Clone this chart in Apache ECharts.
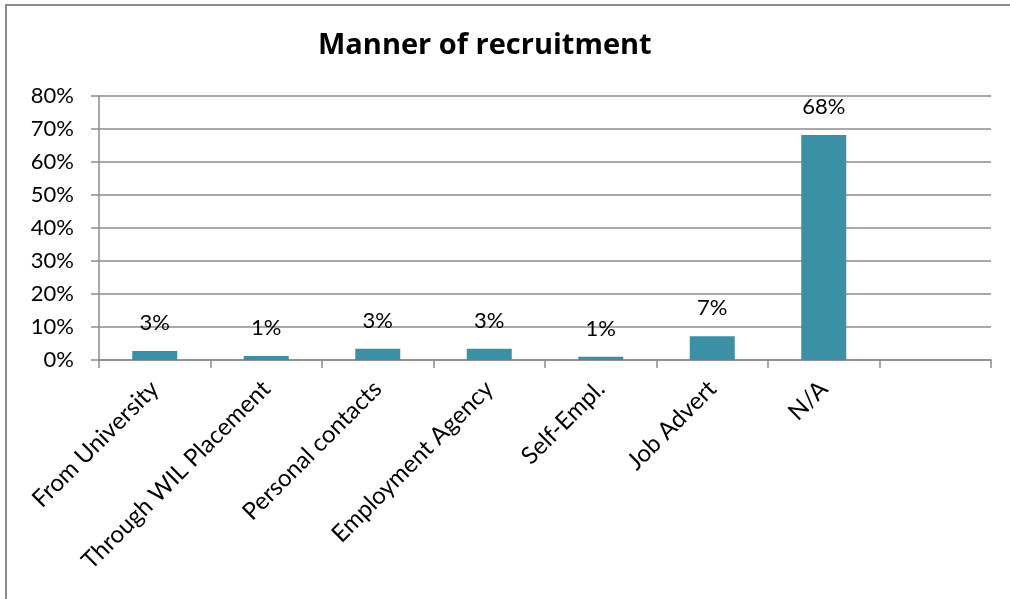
<!DOCTYPE html>
<html>
<head>
<meta charset="utf-8">
<title>Manner of recruitment</title>
<script src="https://cdn.jsdelivr.net/npm/echarts@6/dist/echarts.min.js"></script>
<style>
	html, body { margin: 0; padding: 0; background: #fff; }
	#frame {
		position: absolute; left: 5px; top: 4px; width: 1005px; height: 595px;
		border-left: 2px solid #8c8c8c; border-top: 2px solid #8c8c8c;
	}
	#chart-area { position: absolute; left: 0; top: 0; width: 1010px; height: 599px; }
</style>
</head>
<body>
<div id="frame"></div>
<div id="chart-area"></div>
<script>
// categories (last slot is empty, as in the original sheet)
var categories = ['From University', 'Through WIL Placement', 'Personal contacts', 'Employment Agency', 'Self-Empl.', 'Job Advert', 'N/A', ''];
// share of respondents, percent
var shares = [2.7, 1.2, 3.4, 3.4, 1.0, 7.2, 68.2, null];
var yTicks = [0, 10, 20, 30, 40, 50, 60, 70, 80];

var fontName = 'Lato';
var myChart = echarts.init(document.getElementById('chart-area'));
option = {
	animation: false,
	title: {
		text: 'Manner of recruitment',
		left: 313,
		top: 26,
		textStyle: { fontFamily: 'Open Sans', fontSize: 29, fontWeight: 'bold', color: '#000' }
	},
	grid: { left: 99, right: 19, top: 96, bottom: 239 },
	xAxis: {
		type: 'category',
		data: categories,
		axisLine: { lineStyle: { color: '#8c8c8c', width: 1.5 } },
		axisTick: { show: true, length: 8, lineStyle: { color: '#8c8c8c', width: 1.5 } },
		axisLabel: {
			interval: 0,
			rotate: 45,
			margin: 25,
			fontFamily: fontName,
			fontSize: 24,
			color: '#000'
		}
	},
	yAxis: {
		type: 'value',
		min: yTicks[0],
		max: yTicks[yTicks.length - 1],
		interval: 10,
		axisLine: { show: true, lineStyle: { color: '#8c8c8c', width: 1.5 } },
		axisTick: { show: true, length: 8, lineStyle: { color: '#8c8c8c', width: 1.5 } },
		splitLine: { lineStyle: { color: '#8c8c8c', width: 1.5 } },
		axisLabel: {
			margin: 25,
			fontFamily: fontName,
			fontSize: 22,
			color: '#000',
			formatter: '{value}%'
		}
	},
	series: [{
		type: 'bar',
		data: shares,
		barWidth: 45,
		itemStyle: { color: '#3c90a6' },
		label: {
			show: true,
			position: 'top',
			distance: 17,
			fontFamily: fontName,
			fontSize: 22,
			color: '#000',
			formatter: function (p) { return Math.round(p.value) + '%'; }
		}
	}]
};
myChart.setOption(option);
</script>
</body>
</html>
